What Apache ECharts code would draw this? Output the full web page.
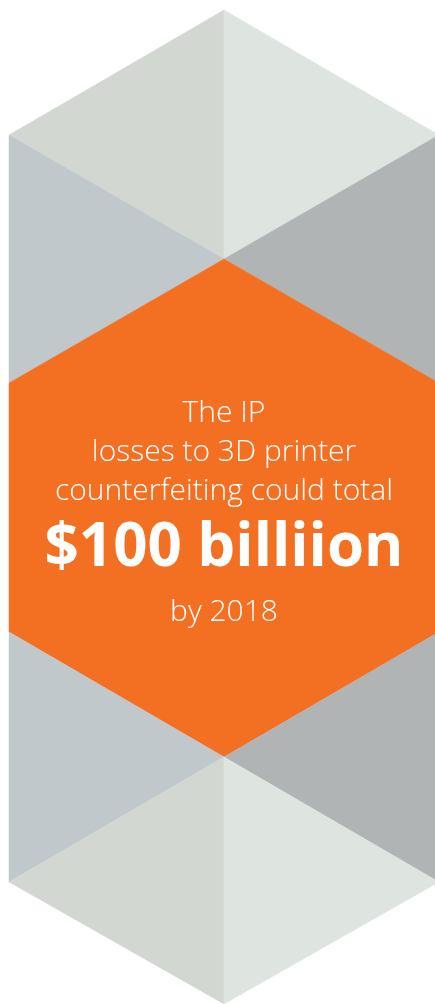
<!DOCTYPE html>
<html>
<head>
<meta charset="utf-8">
<script src="https://cdn.jsdelivr.net/npm/echarts@6/dist/echarts.min.js"></script>
<style>
html,body{margin:0;padding:0;background:#fff;}
#c{width:435px;height:1004px;}
</style>
</head>
<body>
<div id="c"></div>
<script>
// Geometry of the infographic (data units = pixels of the 435x1004 canvas)
var columnX = [9, 224, 439];               // left edge, centre line, right edge
var levelY = [10, 135, 259, 383, 632, 757, 882, 1004];
// faces: list of [colIndex, levelIndex] vertices
var faceVertices = [
  [[1,0],[0,1],[1,2]],
  [[1,0],[2,1],[1,2]],
  [[0,1],[1,2],[0,3]],
  [[2,1],[1,2],[2,3]],
  [[1,2],[2,3],[2,4],[1,5],[0,4],[0,3]],
  [[0,4],[1,5],[0,6]],
  [[2,4],[1,5],[2,6]],
  [[0,6],[1,5],[1,7]],
  [[1,5],[2,6],[1,7]]
];
var faceColors = ['#D2D7D2','#DEE4DF','#C0C8CB','#B0B4B5','#F37023','#C0C8CB','#B0B4B5','#D2D7D2','#DEE4DF'];

var textLines = ['The IP', 'losses to 3D printer', 'counterfeiting could total', '$100 billiion', 'by 2018'];
var textBaselines = [422, 461.5, 500, 566, 621.5];
var textSizes = [30, 30, 30, 60, 30];

var chart = echarts.init(document.getElementById('c'), null, {renderer: 'canvas'});

chart.setOption({
  animation: false,
  grid: {left: 0, right: 0, top: 0, bottom: 0},
  xAxis: {type: 'value', min: 0, max: 435, show: false},
  yAxis: {type: 'value', min: 0, max: 1004, inverse: true, show: false},
  series: [{
    type: 'custom',
    coordinateSystem: 'cartesian2d',
    clip: false,
    silent: true,
    data: faceVertices.map(function (f, i) { return [i]; }),
    renderItem: function (params, api) {
      var i = api.value(0);
      var pts = faceVertices[i].map(function (v) {
        return api.coord([columnX[v[0]], levelY[v[1]]]);
      });
      return {
        type: 'polygon',
        shape: {points: pts},
        style: {fill: faceColors[i], stroke: faceColors[i], lineWidth: 0.5}
      };
    }
  }],
  graphic: {
    elements: textLines.map(function (t, i) {
      var big = (i === 3);
      var fs = textSizes[i];
      return {
        type: 'text',
        z: 100,
        x: 224,
        y: textBaselines[i] + 0.21 * fs,
        style: {
          text: t,
          fill: '#ffffff',
          fontFamily: 'Open Sans',
          fontWeight: big ? 700 : 300,
          fontSize: fs,
          align: 'center',
          verticalAlign: 'bottom'
        }
      };
    })
  }
});
</script>
</body>
</html>
